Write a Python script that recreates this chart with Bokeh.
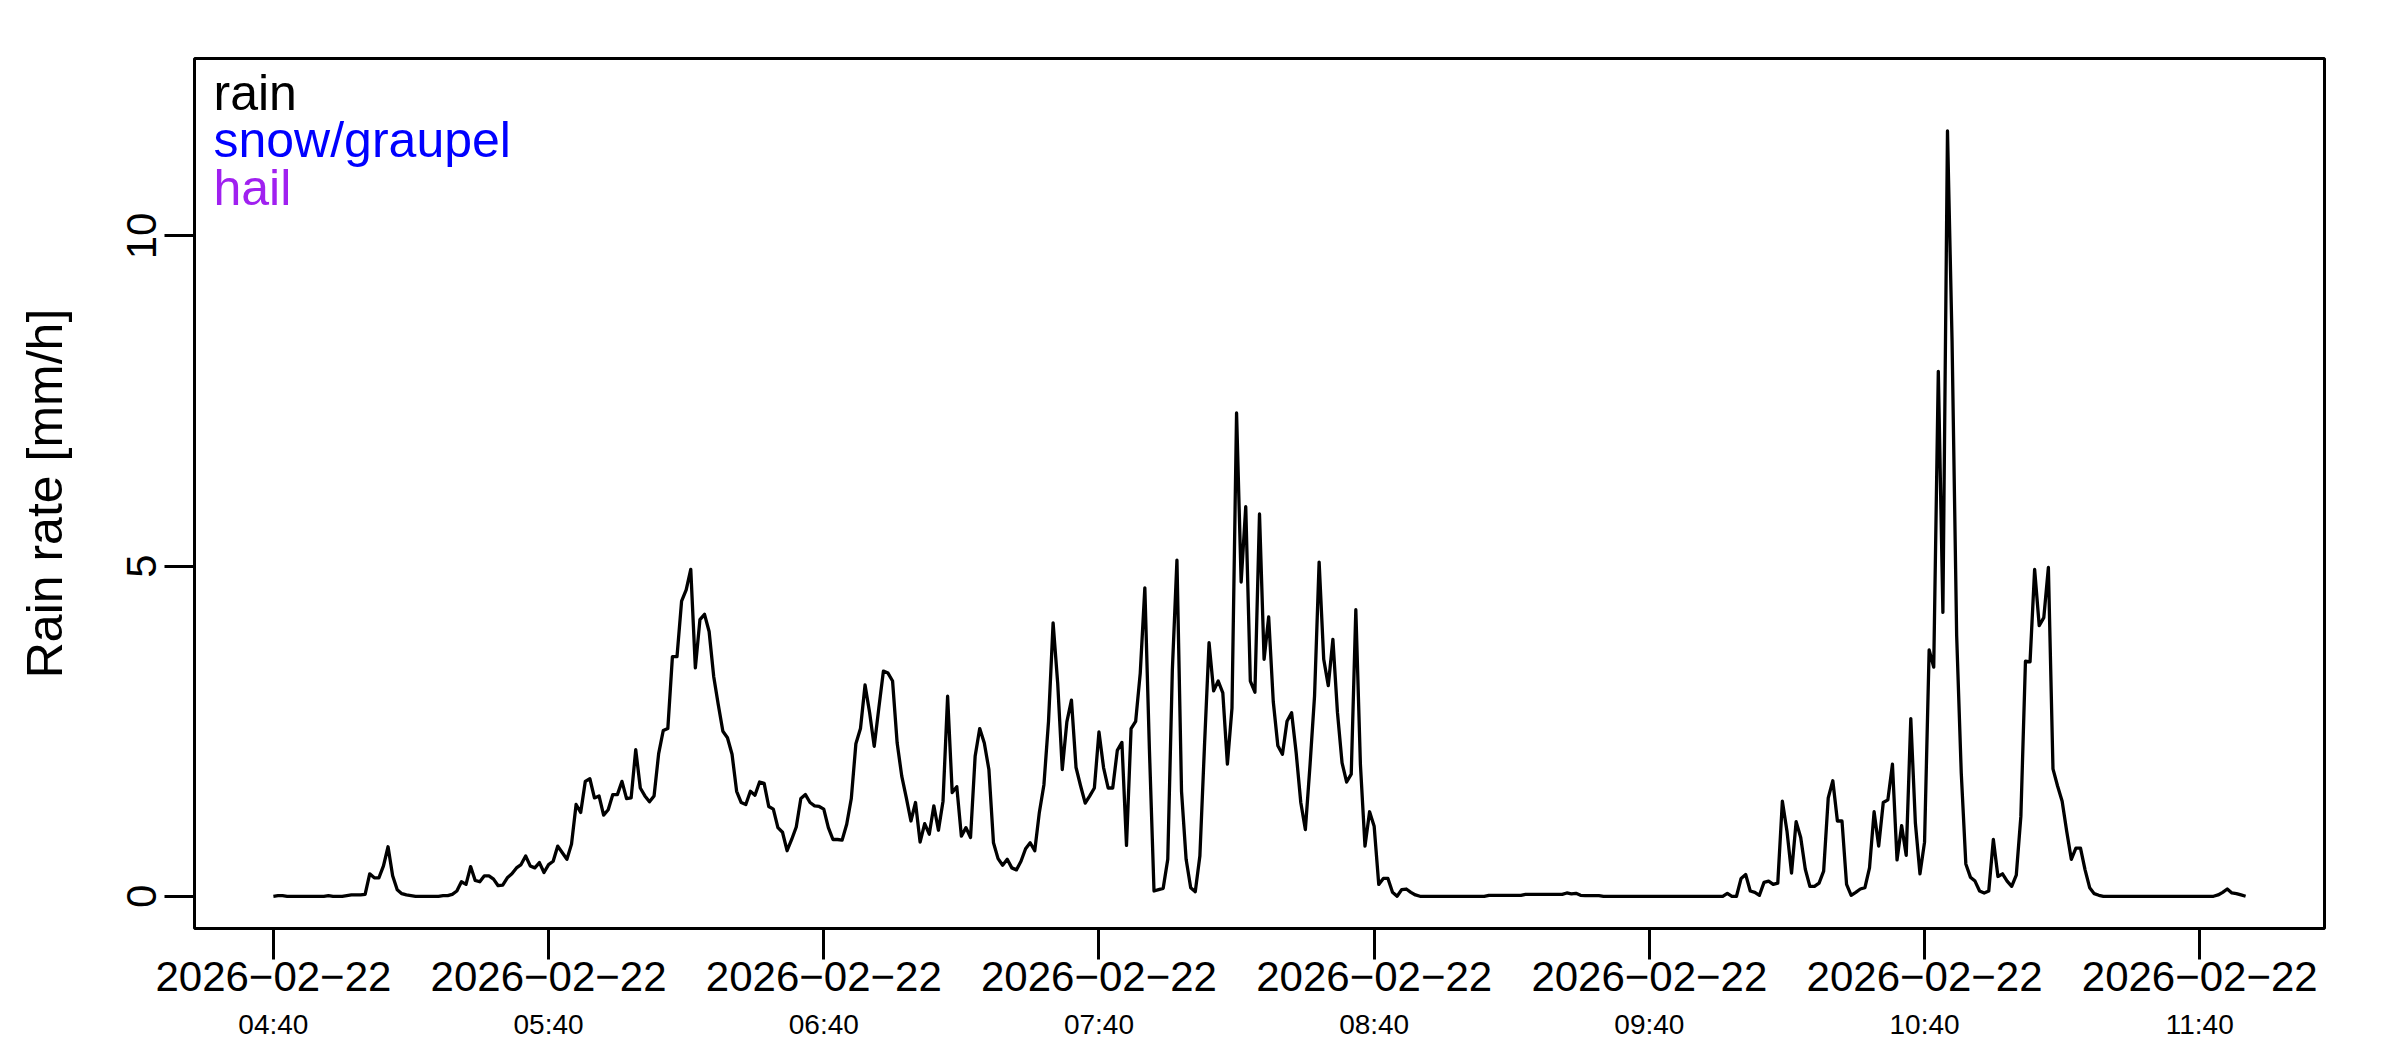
from datetime import datetime
import pandas as pd
from bokeh.plotting import figure
from bokeh.models import (ColumnDataSource, Range1d, FixedTicker, DatetimeAxis,
                          DatetimeTickFormatter, Label)
from bokeh.embed import file_html
from bokeh.resources import INLINE

# ---------------- data (rain rate, mm/h, one value per minute from 04:40) -------------
start_time = "2026-02-22 04:40"

rain_0440 = [0.00, 0.01, 0.01, 0.00, 0.00, 0.00, 0.00, 0.00, 0.00, 0.00,
             0.00, 0.00, 0.01, 0.00, 0.00, 0.00, 0.01, 0.02, 0.02, 0.02,
             0.03, 0.34, 0.28, 0.28, 0.46, 0.75, 0.31, 0.10, 0.04, 0.02,
             0.01, 0.00, 0.00, 0.00, 0.00, 0.00, 0.00, 0.01, 0.01, 0.03,
             0.08, 0.22, 0.18, 0.45, 0.24, 0.22, 0.31, 0.31, 0.26, 0.16,
             0.17, 0.28, 0.34, 0.43, 0.48, 0.61, 0.46, 0.43, 0.51, 0.36]
rain_0540 = [0.48, 0.53, 0.76, 0.66, 0.56, 0.79, 1.39, 1.27, 1.74, 1.78,
             1.49, 1.52, 1.23, 1.31, 1.54, 1.54, 1.74, 1.48, 1.49, 2.22,
             1.64, 1.52, 1.43, 1.52, 2.16, 2.51, 2.54, 3.63, 3.63, 4.47,
             4.64, 4.95, 3.46, 4.19, 4.27, 4.01, 3.33, 2.90, 2.50, 2.40,
             2.15, 1.59, 1.42, 1.39, 1.59, 1.53, 1.73, 1.71, 1.36, 1.32,
             1.04, 0.97, 0.69, 0.86, 1.05, 1.48, 1.54, 1.42, 1.37, 1.36]
rain_0640 = [1.32, 1.04, 0.86, 0.86, 0.85, 1.09, 1.48, 2.31, 2.54, 3.20,
             2.78, 2.27, 2.85, 3.41, 3.38, 3.26, 2.32, 1.82, 1.49, 1.14,
             1.42, 0.82, 1.10, 0.94, 1.37, 1.00, 1.44, 3.03, 1.57, 1.66,
             0.91, 1.04, 0.89, 2.12, 2.54, 2.32, 1.92, 0.81, 0.57, 0.47,
             0.56, 0.43, 0.40, 0.53, 0.72, 0.81, 0.69, 1.27, 1.69, 2.65,
             4.14, 3.23, 1.92, 2.64, 2.97, 1.95, 1.67, 1.41, 1.52, 1.64]
rain_0740 = [2.49, 1.95, 1.64, 1.64, 2.21, 2.33, 0.77, 2.54, 2.65, 3.38,
             4.67, 2.22, 0.08, 0.10, 0.12, 0.56, 3.43, 5.09, 1.59, 0.56,
             0.13, 0.07, 0.61, 2.27, 3.84, 3.11, 3.26, 3.08, 2.00, 2.85,
             7.32, 4.76, 5.90, 3.26, 3.09, 5.79, 3.59, 4.23, 2.95, 2.28,
             2.15, 2.65, 2.78, 2.17, 1.42, 1.01, 1.97, 3.03, 5.06, 3.59,
             3.19, 3.89, 2.78, 2.02, 1.73, 1.85, 4.34, 2.00, 0.76, 1.28]
rain_0840 = [1.06, 0.18, 0.27, 0.27, 0.06, 0.00, 0.10, 0.11, 0.06, 0.02,
             0.00, 0.00, 0.00, 0.00, 0.00, 0.00, 0.00, 0.00, 0.00, 0.00,
             0.00, 0.00, 0.00, 0.00, 0.00, 0.015, 0.015, 0.015, 0.015, 0.015,
             0.015, 0.015, 0.015, 0.03, 0.03, 0.03, 0.03, 0.03, 0.03, 0.03,
             0.03, 0.03, 0.05, 0.035, 0.045, 0.015, 0.01, 0.01, 0.01, 0.01,
             0.00, 0.00, 0.00, 0.00, 0.00, 0.00, 0.00, 0.00, 0.00, 0.00]
rain_0940 = [0.00, 0.00, 0.00, 0.00, 0.00, 0.00, 0.00, 0.00, 0.00, 0.00,
             0.00, 0.00, 0.00, 0.00, 0.00, 0.00, 0.00, 0.045, 0.00, 0.00,
             0.27, 0.33, 0.08, 0.06, 0.015, 0.21, 0.23, 0.18, 0.20, 1.44,
             0.99, 0.35, 1.13, 0.89, 0.41, 0.15, 0.15, 0.20, 0.38, 1.49,
             1.75, 1.14, 1.14, 0.18, 0.015, 0.06, 0.11, 0.13, 0.43, 1.28,
             0.76, 1.42, 1.46, 2.00, 0.55, 1.07, 0.62, 2.69, 1.11, 0.34]
rain_1040 = [0.82, 3.73, 3.47, 7.95, 4.30, 11.59, 8.40, 3.95, 1.87, 0.49,
             0.29, 0.23, 0.08, 0.05, 0.08, 0.86, 0.30, 0.34, 0.23, 0.15,
             0.32, 1.21, 3.56, 3.55, 4.95, 4.10, 4.22, 4.98, 1.93, 1.67,
             1.44, 0.98, 0.56, 0.73, 0.73, 0.40, 0.13, 0.04, 0.015, 0.00,
             0.00, 0.00, 0.00, 0.00, 0.00, 0.00, 0.00, 0.00, 0.00, 0.00,
             0.00, 0.00, 0.00, 0.00, 0.00, 0.00, 0.00, 0.00, 0.00, 0.00,
             0.00, 0.00, 0.00, 0.00, 0.02, 0.06, 0.11, 0.05, 0.04, 0.02,
             0.00]

tick_times = ["2026-02-22 04:40", "2026-02-22 05:40", "2026-02-22 06:40",
              "2026-02-22 07:40", "2026-02-22 08:40", "2026-02-22 09:40",
              "2026-02-22 10:40", "2026-02-22 11:40"]
y_ticks = [0, 5, 10]

legend_labels = ["rain", "snow/graupel", "hail"]
legend_colors = ["#000000", "#0000FF", "#A020F0"]

# ---------------- build ----------------
rain = rain_0440 + rain_0540 + rain_0640 + rain_0740 + rain_0840 + rain_0940 + rain_1040
times = pd.date_range(start=start_time, periods=len(rain), freq="min")
src = ColumnDataSource(dict(t=times, rain=rain))

span = times[-1] - times[0]
x_start = times[0] - span * 0.04
x_end = times[-1] + span * 0.04

FONT = "Liberation Sans"

p = figure(frame_width=2130, frame_height=870, x_axis_type="datetime",
           output_backend="svg", toolbar_location=None,
           x_range=Range1d(x_start, x_end), y_range=Range1d(-0.488, 12.688),
           min_border_left=194, min_border_right=76,
           min_border_top=58, min_border_bottom=120)
p.background_fill_color = "white"
p.border_fill_color = "white"
p.outline_line_color = "black"
p.outline_line_width = 3
p.xgrid.visible = False
p.ygrid.visible = False

p.line(x="t", y="rain", source=src, line_color="black", line_width=3.3,
       line_join="round")

tick_ms = [pd.Timestamp(t).value // 10**6 for t in tick_times]


def fmt(s):
    return DatetimeTickFormatter(
        microseconds=s, milliseconds=s, seconds=s, minsec=s, minutes=s,
        hourmin=s, hours=s, days=s, months=s, years=s, strip_leading_zeros=False)


# date line of the x labels
xa = p.below[0]
xa.ticker = FixedTicker(ticks=tick_ms)
xa.formatter = fmt("%Y\u2212%m\u2212%d")
xa.axis_line_color = None
xa.major_tick_out = 31
xa.major_tick_in = 0
xa.major_tick_line_width = 3
xa.minor_tick_out = 0
xa.minor_tick_in = 0
xa.major_label_standoff = 2
xa.major_label_text_font = FONT
xa.major_label_text_font_size = "42px"
xa.major_label_text_color = "black"

# time line of the x labels
xa2 = DatetimeAxis(ticker=FixedTicker(ticks=tick_ms), formatter=fmt("%H:%M"))
xa2.axis_line_color = None
xa2.major_tick_out = 0
xa2.major_tick_in = 0
xa2.minor_tick_out = 0
xa2.minor_tick_in = 0
xa2.major_label_standoff = 15
xa2.major_label_text_font = FONT
xa2.major_label_text_font_size = "28px"
xa2.major_label_text_color = "black"
p.add_layout(xa2, "below")

ya = p.left[0]
ya.ticker = FixedTicker(ticks=y_ticks)
ya.axis_line_color = None
ya.major_tick_out = 30
ya.major_tick_in = 0
ya.major_tick_line_width = 3
ya.minor_tick_out = 0
ya.minor_tick_in = 0
ya.major_label_orientation = "parallel"
ya.major_label_standoff = 8
ya.major_label_text_font = FONT
ya.major_label_text_font_size = "42px"
ya.major_label_text_color = "black"
ya.axis_label = "Rain rate [mm/h]"
ya.axis_label_text_font = FONT
ya.axis_label_text_font_size = "50px"
ya.axis_label_text_font_style = "normal"
ya.axis_label_text_color = "black"
ya.axis_label_standoff = 52

for i, (lab, col) in enumerate(zip(legend_labels, legend_colors)):
    p.add_layout(Label(x=19, y=836 - 47.5 * i, x_units="screen", y_units="screen",
                       text=lab, text_color=col, text_font=FONT,
                       text_font_size="50px", text_baseline="alphabetic",
                       text_align="left"))

open("out.html", "w").write(file_html(p, INLINE))
